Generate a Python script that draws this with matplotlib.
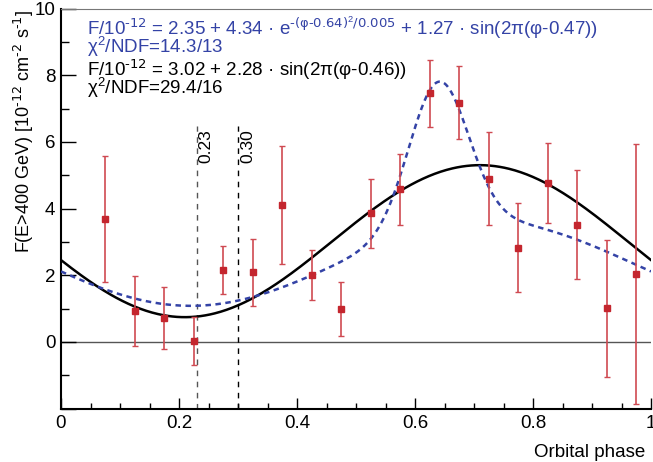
"""
orbital phase light curve with two fits
"""

import numpy as np
import matplotlib
matplotlib.use("Agg")
import matplotlib.pyplot as plt
from matplotlib.ticker import MultipleLocator

plt.rcParams["font.family"] = ["Liberation Sans", "DejaVu Sans"]
plt.rcParams["mathtext.default"] = "regular"

# data points
phase = [0.075, 0.125, 0.175, 0.225, 0.275, 0.325, 0.375, 0.425, 0.475, 0.525,
         0.575, 0.625, 0.675, 0.725, 0.775, 0.825, 0.875, 0.925, 0.975]
flux = [3.69, 0.93, 0.71, 0.03, 2.16, 2.09, 4.12, 2.01, 0.99, 3.86,
        4.58, 7.46, 7.18, 4.90, 2.83, 4.76, 3.52, 1.01, 2.04]
flux_err = [1.90, 1.04, 0.93, 0.73, 0.73, 1.01, 1.77, 0.76, 0.80, 1.04,
            1.07, 1.00, 1.10, 1.39, 1.34, 1.20, 1.64, 2.05, 3.91]

# fit parameters as printed on the chart
gauss_sin_pars = [2.35, 4.34, 0.64, 0.005, 1.27, 0.47]
sin_pars = [3.02, 2.28, 0.46]

# marked phases
phase_marks = [0.23, 0.30]
phase_mark_labels = ["0.23", "0.30"]

red = "#c4262e"
blue = "#3443a6"


def gauss_sin(x, p):
    return p[0] + p[1] * np.exp(-(x - p[2]) ** 2 / p[3]) + p[4] * np.sin(2 * np.pi * (x - p[5]))


def plain_sin(x, p):
    return p[0] + p[1] * np.sin(2 * np.pi * (x - p[2]))


fig = plt.figure(figsize=(6.53, 4.62), dpi=100)
ax = fig.add_axes([61 / 653, 1 - 408.5 / 462, 590 / 653, 400 / 462])

ax.axhline(0, color="#555555", lw=1.0, zorder=1)

for xm, lab, col in zip(phase_marks, phase_mark_labels, ["#555555", "black"]):
    ax.plot([xm, xm], [-2, 6.47], ls=(0, (4, 4)), color=col, lw=1.0, zorder=2)
    ax.text(xm + 0.016, 6.38, lab, rotation=90, ha="center", va="top", fontsize=12.5)

xs = np.linspace(0, 1, 500)
ax.plot(xs, plain_sin(xs, sin_pars), color="black", lw=1.8, zorder=3)
ax.plot(xs, gauss_sin(xs, gauss_sin_pars), color=blue, lw=1.8, ls=(0, (2.2, 1.8)), zorder=3)

ax.errorbar(phase, flux, yerr=flux_err, fmt="s", color=red, ecolor="#cf4a52",
            markersize=4.3, elinewidth=1.2, capsize=2.2, capthick=1.0, zorder=4)

ax.set_xlim(0, 1)
ax.set_ylim(-2, 10)
ax.xaxis.set_minor_locator(MultipleLocator(0.05))
ax.yaxis.set_minor_locator(MultipleLocator(1))
ax.set_xticks([0, 0.2, 0.4, 0.6, 0.8, 1.0])
ax.set_xticklabels(["0", "0.2", "0.4", "0.6", "0.8", "1"])
ax.set_yticks([-2, 0, 2, 4, 6, 8, 10])
ax.set_yticklabels(["", "0", "2", "4", "6", "8", "10"])
ax.tick_params(which="both", direction="in", labelsize=13.5, width=1.0)
ax.tick_params(axis="y", which="major", length=10.5, pad=4)
ax.tick_params(axis="y", which="minor", length=5.5)
ax.tick_params(axis="x", which="major", length=8, pad=5)
ax.tick_params(axis="x", which="minor", length=4)

ax.spines["right"].set_visible(False)
ax.spines["top"].set_color("#777777")
ax.spines["left"].set_linewidth(1.5)
ax.spines["bottom"].set_linewidth(1.5)

fig.text(645 / 653, 1 - 457 / 462, "Orbital phase", ha="right", va="baseline", fontsize=13.5)
fig.text(24 / 653, 1 - 10 / 462, r"F(E>400 GeV) [10$^{\text{-12}}$ cm$^{\text{-2}}$ s$^{\text{-1}}$]",
         rotation=90, ha="center", va="top", fontsize=13)

tx = 0.044
ax.text(tx, 9.21,
        r"F/10$^{\text{-12}}$ = 2.35 + 4.34 · e$^{\text{-(φ-0.64)}^{2}\text{/0.005}}$ + 1.27 · sin(2π(φ-0.47))",
        color=blue, fontsize=13.5, va="baseline")
ax.text(tx, 8.66, "χ$^{2}$/NDF=14.3/13", color=blue, fontsize=13.5, va="baseline")
ax.text(tx, 7.99, r"F/10$^{\text{-12}}$ = 3.02 + 2.28 · sin(2π(φ-0.46))", color="black",
        fontsize=13.5, va="baseline")
ax.text(tx, 7.43, "χ$^{2}$/NDF=29.4/16", color="black", fontsize=13.5, va="baseline")

fig.savefig("out.png", dpi=100)
